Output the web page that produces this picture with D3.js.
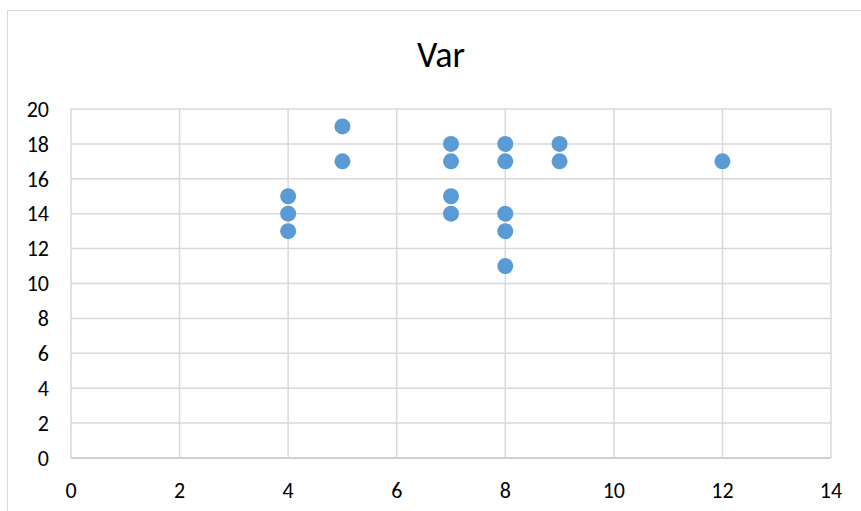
<!DOCTYPE html>
<html>
<head>
<meta charset="utf-8">
<script src="https://cdn.jsdelivr.net/npm/d3@7"></script>
<style>
  body { margin: 0; background: #fff; }
  svg text { font-family: Calibri, Carlito, Lato, "Open Sans", sans-serif; fill: #000; }
  .tick-label { font-size: 22px; }
  .chart-title { font-size: 36px; }
</style>
</head>
<body>
<svg width="861" height="511"></svg>
<script>
"use strict";

const xValues = [4, 4, 4, 5, 5, 7, 7, 7, 7, 8, 8, 8, 8, 8, 9, 9, 12];
const yValues = [13, 14, 15, 17, 19, 14, 15, 17, 18, 11, 13, 14, 17, 18, 17, 18, 17];
const xTicks = [0, 2, 4, 6, 8, 10, 12, 14];
const yTicks = [0, 2, 4, 6, 8, 10, 12, 14, 16, 18, 20];
const title = 'Var';

const points = xValues.map((x, i) => ({x: x, y: yValues[i]}));

const svg = d3.select('svg');

// chart frame
svg.append('rect')
    .attr('x', 7.5).attr('y', 10.5)
    .attr('width', 870).attr('height', 520)
    .attr('fill', 'none')
    .attr('stroke', '#d9d9d9');

const plot = {left: 71, right: 831, top: 109, bottom: 458};

const x = d3.scaleLinear().domain([0, 14]).range([plot.left, plot.right]);
const y = d3.scaleLinear().domain([0, 20]).range([plot.bottom, plot.top]);

// gridlines
svg.append('g')
    .selectAll('line')
    .data(yTicks)
    .enter().append('line')
    .attr('x1', plot.left).attr('x2', plot.right)
    .attr('y1', d => y(d)).attr('y2', d => y(d))
    .attr('stroke', d => d === 0 ? '#bfbfbf' : '#d9d9d9')
    .attr('stroke-width', 1.5);

svg.append('g')
    .selectAll('line')
    .data(xTicks)
    .enter().append('line')
    .attr('x1', d => x(d)).attr('x2', d => x(d))
    .attr('y1', plot.top).attr('y2', plot.bottom)
    .attr('stroke', '#d9d9d9')
    .attr('stroke-width', 1.5);

// tick labels
svg.append('g')
    .selectAll('text')
    .data(xTicks)
    .enter().append('text')
    .attr('class', 'tick-label')
    .attr('x', d => x(d))
    .attr('y', plot.bottom + 40)
    .attr('text-anchor', 'middle')
    .text(d => d);

svg.append('g')
    .selectAll('text')
    .data(yTicks)
    .enter().append('text')
    .attr('class', 'tick-label')
    .attr('x', plot.left - 22)
    .attr('y', d => y(d))
    .attr('dy', '0.35em')
    .attr('text-anchor', 'end')
    .text(d => d);

// title
svg.append('text')
    .attr('class', 'chart-title')
    .attr('x', 441)
    .attr('y', 67)
    .attr('text-anchor', 'middle')
    .text(title);

// points
svg.append('g')
    .selectAll('circle')
    .data(points)
    .enter().append('circle')
    .attr('cx', d => x(d.x))
    .attr('cy', d => y(d.y))
    .attr('r', 8)
    .attr('fill', '#5b9bd5');
</script>
</body>
</html>
